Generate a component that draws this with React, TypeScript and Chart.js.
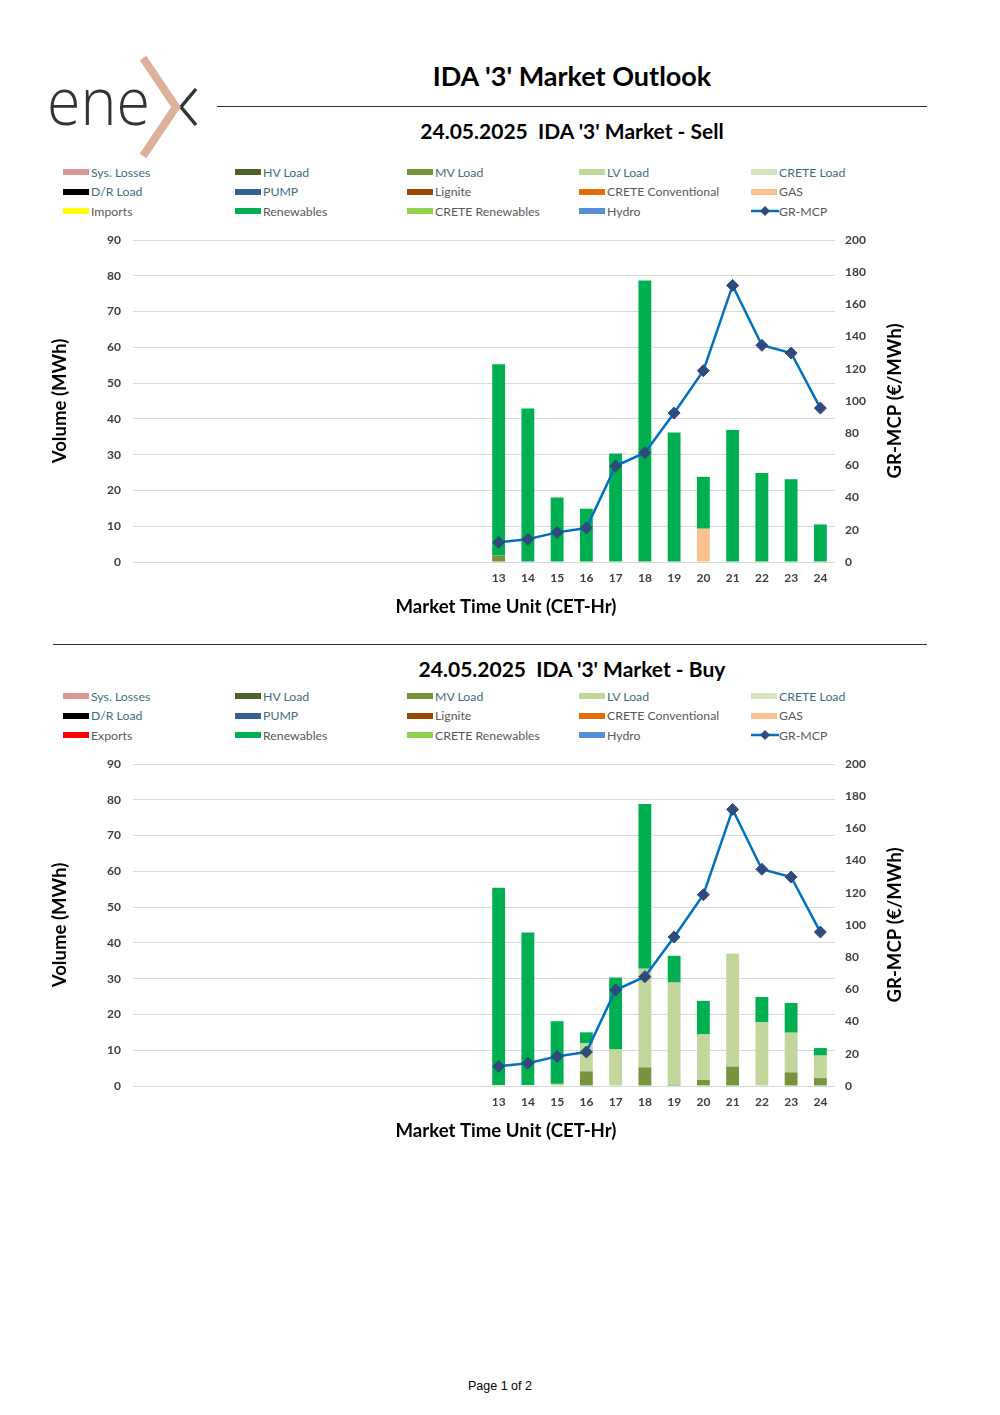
import React, { useEffect, useRef } from "react";
import { Chart, registerables } from "chart.js";

Chart.register(...registerables);

const FONT = "Lato, 'DejaVu Sans', sans-serif";
const N = null;

const hourLabels = ["", "", "", "", "", "", "", "", "", "", "", "", "13", "14", "15", "16", "17", "18", "19", "20", "21", "22", "23", "24"];

const grMcp = [N, N, N, N, N, N, N, N, N, N, N, N, 12.2, 14.1, 18.4, 21.1, 59.6, 67.9, 92.5, 118.8, 171.8, 134.6, 129.8, 95.6];

const sellMvLoad = [N, N, N, N, N, N, N, N, N, N, N, N, 1.8, N, N, N, N, N, N, N, N, N, N, N];
const sellGas = [N, N, N, N, N, N, N, N, N, N, N, N, N, N, N, N, N, N, N, 9.3, N, N, N, N];
const sellRenewables = [N, N, N, N, N, N, N, N, N, N, N, N, 53.5, 42.9, 18.0, 14.9, 30.3, 78.7, 36.2, 14.5, 36.9, 24.9, 23.1, 10.5];

const buyMvLoad = [N, N, N, N, N, N, N, N, N, N, N, N, N, N, N, 4.1, N, 5.2, 0.3, 1.7, 5.4, N, 3.8, 2.2];
const buyLvLoad = [N, N, N, N, N, N, N, N, N, N, N, N, 0.3, 0.3, 0.6, 7.8, 10.2, 27.6, 28.6, 12.7, 31.6, 17.8, 11.1, 6.3];
const buyRenewables = [N, N, N, N, N, N, N, N, N, N, N, N, 55.1, 42.6, 17.5, 3.1, 20.1, 46.0, 7.5, 9.4, N, 7.1, 8.3, 2.1];

const volumeTicks = [0, 90, 10];
const priceTicks = [0, 200, 20];

const COLORS: Record<string, string> = {
  "Sys. Losses": "#DA9694",
  "HV Load": "#4F6228",
  "MV Load": "#77933C",
  "LV Load": "#C3D69B",
  "CRETE Load": "#D7E4BD",
  "D/R Load": "#000000",
  PUMP: "#376092",
  Lignite: "#984807",
  "CRETE Conventional": "#E46C0A",
  GAS: "#FAC090",
  Imports: "#FFFF00",
  Exports: "#FF0000",
  Renewables: "#00B050",
  "CRETE Renewables": "#92D050",
  Hydro: "#558ED5",
};

const TEAL = "#3F6E80";
const GRAY = "#595959";

const legendSell = [
  ["Sys. Losses", TEAL], ["HV Load", TEAL], ["MV Load", TEAL], ["LV Load", TEAL], ["CRETE Load", TEAL],
  ["D/R Load", TEAL], ["PUMP", TEAL], ["Lignite", GRAY], ["CRETE Conventional", GRAY], ["GAS", GRAY],
  ["Imports", GRAY], ["Renewables", GRAY], ["CRETE Renewables", GRAY], ["Hydro", GRAY], ["GR-MCP", GRAY],
];
const legendBuy = [
  ["Sys. Losses", TEAL], ["HV Load", TEAL], ["MV Load", TEAL], ["LV Load", TEAL], ["CRETE Load", TEAL],
  ["D/R Load", TEAL], ["PUMP", TEAL], ["Lignite", GRAY], ["CRETE Conventional", GRAY], ["GAS", GRAY],
  ["Exports", GRAY], ["Renewables", GRAY], ["CRETE Renewables", GRAY], ["Hydro", GRAY], ["GR-MCP", GRAY],
];

const axisTitlePlugin = {
  id: "axisTitles",
  afterDraw(chart: any) {
    const { ctx, chartArea } = chart;
    const cy = (chartArea.top + chartArea.bottom) / 2;
    ctx.save();
    ctx.fillStyle = "#000000";
    ctx.font = `bold 18.6px ${FONT}`;
    ctx.textAlign = "center";
    ctx.textBaseline = "middle";
    ctx.save();
    ctx.translate(chartArea.left - 73, cy);
    ctx.rotate(-Math.PI / 2);
    ctx.fillText("Volume (MWh)", 0, 0);
    ctx.restore();
    ctx.save();
    ctx.translate(chartArea.right + 60, cy);
    ctx.rotate(-Math.PI / 2);
    ctx.fillText("GR-MCP (€/MWh)", 0, 0);
    ctx.restore();
    ctx.fillText("Market Time Unit (CET-Hr)", chartArea.left + 373, chartArea.bottom + 45);
    ctx.restore();
  },
};

type BarDef = { label: string; data: (number | null)[] };

function MarketChart({ bars, top }: { bars: BarDef[]; top: number }) {
  const ref = useRef<HTMLCanvasElement>(null);
  useEffect(() => {
    if (!ref.current) return;
    const tickFont = { family: FONT, size: 12, weight: "bold" as const };
    const chart = new Chart(ref.current, {
      type: "bar",
      data: {
        labels: hourLabels,
        datasets: [
          {
            type: "line" as const,
            label: "GR-MCP",
            data: grMcp,
            yAxisID: "y1",
            order: -1,
            borderColor: "#0070C0",
            borderWidth: 2.5,
            pointStyle: "rectRot",
            pointRadius: 6,
            pointBackgroundColor: "#2F4B7C",
            pointBorderColor: "#2F4B7C",
            pointBorderWidth: 1,
            tension: 0,
          } as any,
          ...bars.map((b) => ({
            type: "bar" as const,
            label: b.label,
            data: b.data,
            backgroundColor: COLORS[b.label],
            yAxisID: "y",
            stack: "s",
            barPercentage: 0.44,
            categoryPercentage: 1,
            borderWidth: 0,
          })),
        ],
      },
      options: {
        animation: false,
        responsive: false,
        maintainAspectRatio: false,
        layout: { padding: { top: 15, left: 0, right: 0, bottom: 0 } },
        plugins: { legend: { display: false }, tooltip: { enabled: false }, title: { display: false } },
        scales: {
          x: {
            stacked: true,
            grid: { display: false, drawTicks: false },
            border: { display: false },
            ticks: { autoSkip: false, maxRotation: 0, minRotation: 0, padding: 9, color: "#404040", font: tickFont },
            afterFit: (s: any) => { s.height = 63; },
          },
          y: {
            position: "left",
            stacked: true,
            min: volumeTicks[0],
            max: volumeTicks[1],
            ticks: { stepSize: volumeTicks[2], padding: 7, color: "#404040", font: tickFont },
            grid: { color: "#D9D9D9", drawTicks: true, tickLength: 5, tickColor: "rgba(0,0,0,0)", lineWidth: 1 },
            border: { display: false },
            afterFit: (s: any) => { s.width = 93; },
          },
          y1: {
            position: "right",
            min: priceTicks[0],
            max: priceTicks[1],
            ticks: { stepSize: priceTicks[2], padding: 7, color: "#404040", font: tickFont },
            grid: { display: false, drawTicks: true, tickLength: 3 },
            border: { display: false },
            afterFit: (s: any) => { s.width = 85; },
          },
        },
      } as any,
      plugins: [axisTitlePlugin],
    });
    return () => chart.destroy();
  }, []);
  return (
    <canvas
      ref={ref}
      width={880}
      height={400}
      style={{ position: "absolute", left: 40, top, width: 880, height: 400 }}
    />
  );
}

function Legend({ items, top }: { items: string[][]; top: number }) {
  const colX = [63, 235, 407, 579, 751];
  return (
    <>
      {items.map(([label, textColor], i) => {
        const col = i % 5;
        const row = Math.floor(i / 5);
        const y = top + row * 19.7;
        const isLine = label === "GR-MCP";
        return (
          <div
            key={label}
            style={{
              position: "absolute",
              left: colX[col],
              top: y - 8,
              height: 16,
              display: "flex",
              alignItems: "center",
              fontFamily: FONT,
              fontSize: 12.3,
              color: textColor,
              whiteSpace: "nowrap",
            }}
          >
            {isLine ? (
              <svg width={28} height={12} style={{ marginRight: 0 }}>
                <line x1={0} y1={6} x2={28} y2={6} stroke="#0070C0" strokeWidth={2.5} />
                <polygon points="14,1 19,6 14,11 9,6" fill="#2F4B7C" />
              </svg>
            ) : (
              <span style={{ display: "inline-block", width: 26, height: 6, background: COLORS[label], marginRight: 2 }} />
            )}
            <span>{label}</span>
          </div>
        );
      })}
    </>
  );
}

export default function App() {
  useEffect(() => {
    document.body.style.margin = "0";
  }, []);
  return (
    <div style={{ position: "relative", width: 1000, height: 1415, background: "#fff", overflow: "hidden" }}>
      <svg width={210} height={110} style={{ position: "absolute", left: 0, top: 50 }}>
        <text x={47} y={75} fontFamily="'Open Sans', Lato, sans-serif" fontWeight={300} fontSize={66} fill="#333333" textLength={103} lengthAdjust="spacingAndGlyphs">ene</text>
        <polyline points="196,39 181,57 196,75" fill="none" stroke="#333333" strokeWidth={3.5} />
        <polyline points="143,8 176,57 143,106" fill="none" stroke="#DDB09A" strokeWidth={8} />
      </svg>
      <div style={{ position: "absolute", left: 217, width: 710, top: 60, textAlign: "center", fontFamily: FONT, fontWeight: 700, fontSize: 27, lineHeight: "32px", color: "#000" }}>
        IDA '3' Market Outlook
      </div>
      <div style={{ position: "absolute", left: 217, width: 710, top: 106, height: 1.3, background: "#333" }} />
      <div style={{ position: "absolute", left: 217, width: 710, top: 118, textAlign: "center", fontFamily: FONT, fontWeight: 700, fontSize: 21, lineHeight: "26px", color: "#000", whiteSpace: "pre" }}>
        {"24.05.2025  IDA '3' Market - Sell"}
      </div>
      <Legend items={legendSell} top={172} />
      <MarketChart
        top={225}
        bars={[
          { label: "MV Load", data: sellMvLoad },
          { label: "GAS", data: sellGas },
          { label: "Renewables", data: sellRenewables },
        ]}
      />
      <div style={{ position: "absolute", left: 53, width: 874, top: 644, height: 1.3, background: "#333" }} />
      <div style={{ position: "absolute", left: 217, width: 710, top: 656, textAlign: "center", fontFamily: FONT, fontWeight: 700, fontSize: 21, lineHeight: "26px", color: "#000", whiteSpace: "pre" }}>
        {"24.05.2025  IDA '3' Market - Buy"}
      </div>
      <Legend items={legendBuy} top={696} />
      <MarketChart
        top={749}
        bars={[
          { label: "MV Load", data: buyMvLoad },
          { label: "LV Load", data: buyLvLoad },
          { label: "Renewables", data: buyRenewables },
        ]}
      />
      <div style={{ position: "absolute", left: 0, width: 1000, top: 1379, textAlign: "center", fontFamily: "'Liberation Sans', Arial, sans-serif", fontSize: 12.5, color: "#000" }}>
        Page 1 of 2
      </div>
    </div>
  );
}
